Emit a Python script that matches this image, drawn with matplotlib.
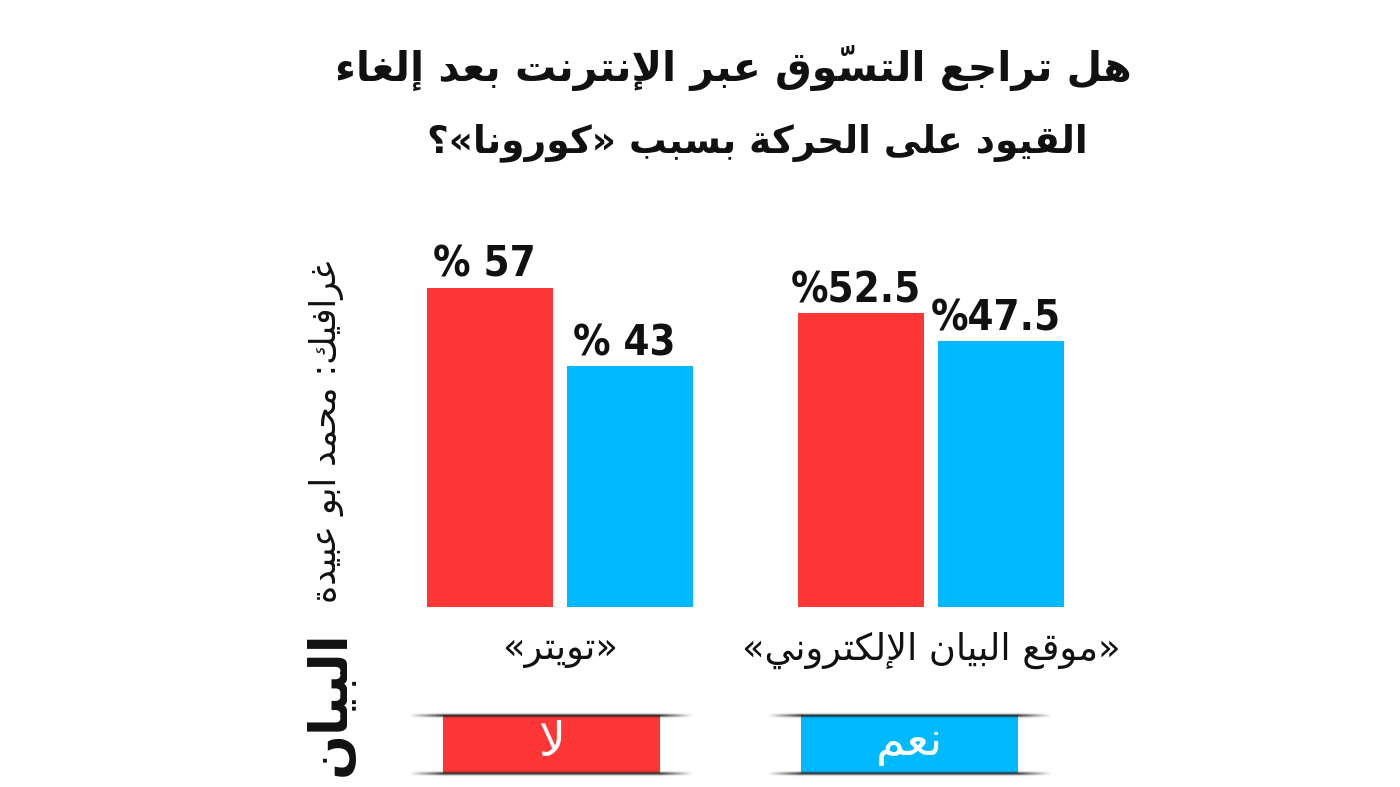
import numpy as np
import matplotlib.pyplot as plt
from matplotlib.patches import Rectangle

# data
categories = ['«تويتر»', '«موقع البيان الإلكتروني»']
no_values = [57, 52.5]
yes_values = [43, 47.5]
label_formats = ['% {:g}', '%{:g}']
series_names = ['لا', 'نعم']
title_lines = ['هل تراجع التسوّق عبر الإنترنت بعد إلغاء',
               'القيود على الحركة بسبب «كورونا»؟']
credit = 'غرافيك: محمد ابو عبيدة'
logo = 'البيان'

RED = '#FF3636'
BLUE = '#00B9FF'

# matplotlib has no arabic shaping, so map letters to presentation forms by hand
AR_FORMS = {
    'ء': (0xFE80, 1), 'آ': (0xFE81, 2), 'أ': (0xFE83, 2), 'ؤ': (0xFE85, 2),
    'إ': (0xFE87, 2), 'ئ': (0xFE89, 4), 'ا': (0xFE8D, 2), 'ب': (0xFE8F, 4),
    'ة': (0xFE93, 2), 'ت': (0xFE95, 4), 'ث': (0xFE99, 4), 'ج': (0xFE9D, 4),
    'ح': (0xFEA1, 4), 'خ': (0xFEA5, 4), 'د': (0xFEA9, 2), 'ذ': (0xFEAB, 2),
    'ر': (0xFEAD, 2), 'ز': (0xFEAF, 2), 'س': (0xFEB1, 4), 'ش': (0xFEB5, 4),
    'ص': (0xFEB9, 4), 'ض': (0xFEBD, 4), 'ط': (0xFEC1, 4), 'ظ': (0xFEC5, 4),
    'ع': (0xFEC9, 4), 'غ': (0xFECD, 4), 'ف': (0xFED1, 4), 'ق': (0xFED5, 4),
    'ك': (0xFED9, 4), 'ل': (0xFEDD, 4), 'م': (0xFEE1, 4), 'ن': (0xFEE5, 4),
    'ه': (0xFEE9, 4), 'و': (0xFEED, 2), 'ى': (0xFEEF, 2), 'ي': (0xFEF1, 4),
}
LAM_ALEF = {'آ': 0xFEF5, 'أ': 0xFEF7, 'إ': 0xFEF9, 'ا': 0xFEFB}
MARKS = set('\u064b\u064c\u064d\u064e\u064f\u0650\u0651\u0652')
MIRROR = {'«': '»', '»': '«', '(': ')', ')': '('}


def ar(text):
    clusters = []
    for ch in text:
        if ch in MARKS and clusters:
            clusters[-1][1] += ch
        else:
            clusters.append([ch, ''])
    merged = []
    i = 0
    while i < len(clusters):
        b, m = clusters[i]
        if b == 'ل' and i + 1 < len(clusters) and clusters[i + 1][0] in LAM_ALEF:
            merged.append(['LA' + clusters[i + 1][0], m + clusters[i + 1][1]])
            i += 2
        else:
            merged.append([b, m])
            i += 1

    def joins_next(b):
        return b in AR_FORMS and AR_FORMS[b][1] == 4

    def joins_prev(b):
        return (b in AR_FORMS and AR_FORMS[b][1] >= 2) or b.startswith('LA')

    out = []
    for i, (b, m) in enumerate(merged):
        prev = merged[i - 1][0] if i > 0 else ''
        nxt = merged[i + 1][0] if i + 1 < len(merged) else ''
        p = joins_next(prev)
        if b.startswith('LA'):
            g = chr(LAM_ALEF[b[2]] + (1 if p else 0))
        elif b in AR_FORMS:
            base, n = AR_FORMS[b]
            if n == 1:
                g = chr(base)
            elif n == 2:
                g = chr(base + (1 if p else 0))
            else:
                nj = joins_prev(nxt)
                g = chr(base + [[0, 2], [1, 3]][p][nj])
        else:
            g = MIRROR.get(b, b)
        out.append(g + m)
    return ''.join(out[::-1])


AR_FONT = ['DejaVu Sans']
NUM_FONT = ['DejaVu Sans']

fig = plt.figure(figsize=(14, 7.87), dpi=100)
fig.patch.set_facecolor('white')

W, H = 1400, 787
ax = fig.add_axes([380 / W, (H - 607) / H, 730 / W, 377 / H])
ax.set_xlim(-0.485, 1.4825)
ax.set_ylim(0, 67.32)
ax.axis('off')

x = np.arange(len(categories))
off = 0.1887
bw = 0.34
ax.bar(x - off, no_values, bw, color=RED)
ax.bar(x + off, yes_values, bw, color=BLUE)

for i in range(len(categories)):
    for xx, v in [(x[i] - off, no_values[i]), (x[i] + off, yes_values[i])]:
        ax.text(xx - 0.015, v + 1.96, label_formats[i].format(v), ha='center', va='baseline',
                fontsize=30, fontweight='bold', fontstretch='condensed',
                family=NUM_FONT, color='#111111')
    ax.text(x[i], -0.114, ar(categories[i]), transform=ax.get_xaxis_transform(),
            ha='center', va='center', fontsize=26.5, family=AR_FONT, color='#111111')

# title
fig.text(733 / W, 1 - 68 / H, ar(title_lines[0]), ha='center', va='center',
         fontsize=29.5, fontweight='bold', family=AR_FONT, color='#111111')
fig.text(757 / W, 1 - 143 / H, ar(title_lines[1]), ha='center', va='center',
         fontsize=27, fontweight='bold', family=AR_FONT, color='#111111')

# credit and logo on the left
fig.text(326 / W, 1 - 432 / H, ar(credit), rotation=90, ha='center', va='center',
         fontsize=25, family=AR_FONT, color='#111111')
fig.text(330 / W, 1 - 703 / H, ar(logo), rotation=90, ha='center', va='center',
         fontsize=38, fontweight='bold', family=AR_FONT, color='#111111')

# soft shadow strip for the ribbon edges
sw, sh = 285, 7
xx_ = np.arange(sw)
fade = np.clip(np.minimum(xx_, sw - 1 - xx_) / 34.0, 0, 1)
yy_ = np.arange(sh) - (sh - 1) / 2
vert = np.exp(-(yy_ / 1.6) ** 2)
alpha = (vert[:, None] * fade[None, :]) * 0.85
strip = np.zeros((sh, sw, 4))
strip[..., :3] = 0.12
strip[..., 3] = alpha

# legend ribbons
for cx, col, name in [(551.5, RED, series_names[0]), (909.5, BLUE, series_names[1])]:
    x0, x1 = (cx - 108.5) / W, (cx + 108.5) / W
    y0, y1 = 1 - 773 / H, 1 - 715 / H
    fig.patches.append(Rectangle((x0, y0), x1 - x0, y1 - y0, transform=fig.transFigure,
                                 facecolor=col, edgecolor='none', zorder=2))
    for ypix in (715, 773):
        fig.figimage(strip, xo=int(cx - sw / 2), yo=int(H - ypix - sh / 2), zorder=3)
    fig.text(cx / W, 1 - 744 / H, ar(name), ha='center', va='center', fontsize=34,
             family=AR_FONT, color='white', zorder=4)

fig.savefig('out.png', dpi=100, facecolor='white')
